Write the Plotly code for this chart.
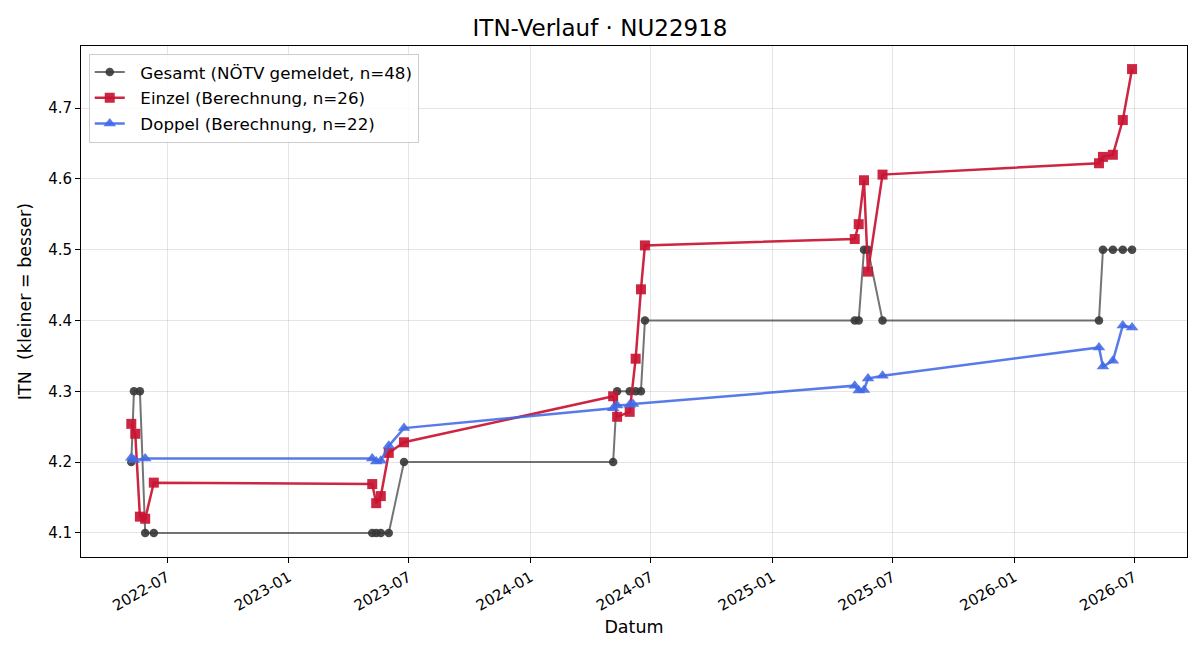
import plotly.graph_objects as go

# Gesamt (NÖTV gemeldet)
gesamt_dates = ["2022-05-08", "2022-05-12", "2022-05-21", "2022-05-29", "2022-06-11",
                "2023-05-07", "2023-05-13", "2023-05-20", "2023-06-01", "2023-06-24",
                "2024-05-05", "2024-05-11", "2024-05-30", "2024-06-08", "2024-06-16", "2024-06-22",
                "2025-05-05", "2025-05-11", "2025-05-19", "2025-05-25", "2025-06-16",
                "2026-05-09", "2026-05-15", "2026-05-30", "2026-06-14", "2026-06-28"]
gesamt_vals = [4.2, 4.3, 4.3, 4.1, 4.1,
               4.1, 4.1, 4.1, 4.1, 4.2,
               4.2, 4.3, 4.3, 4.3, 4.3, 4.4,
               4.4, 4.4, 4.5, 4.5, 4.4,
               4.4, 4.5, 4.5, 4.5, 4.5]

# Einzel (Berechnung)
einzel_dates = ["2022-05-08", "2022-05-14", "2022-05-21", "2022-05-29", "2022-06-11",
                "2023-05-07", "2023-05-13", "2023-05-20", "2023-06-01", "2023-06-24",
                "2024-05-05", "2024-05-11", "2024-05-30", "2024-06-08", "2024-06-16", "2024-06-22",
                "2025-05-05", "2025-05-11", "2025-05-19", "2025-05-25", "2025-06-16",
                "2026-05-09", "2026-05-15", "2026-05-30", "2026-06-14", "2026-06-28"]
einzel_vals = [4.254, 4.240, 4.123, 4.120, 4.171,
               4.169, 4.142, 4.152, 4.213, 4.228,
               4.293, 4.264, 4.271, 4.346, 4.444, 4.506,
               4.515, 4.536, 4.598, 4.469, 4.606,
               4.622, 4.631, 4.634, 4.683, 4.755]

# Doppel (Berechnung)
doppel_dates = ["2022-05-08", "2022-05-12", "2022-05-29",
                "2023-05-07", "2023-05-13", "2023-05-20", "2023-06-01", "2023-06-24",
                "2024-05-05", "2024-05-11", "2024-05-30", "2024-06-04",
                "2025-05-05", "2025-05-11", "2025-05-19", "2025-05-25", "2025-06-16",
                "2026-05-09", "2026-05-15", "2026-05-30", "2026-06-14", "2026-06-28"]
doppel_vals = [4.206, 4.203, 4.205,
               4.205, 4.201, 4.202, 4.223, 4.248,
               4.276, 4.280, 4.281, 4.282,
               4.308, 4.301, 4.302, 4.318, 4.322,
               4.362, 4.335, 4.343, 4.393, 4.390]

y_ticks = [4.1, 4.2, 4.3, 4.4, 4.5, 4.6, 4.7]
x_ticks = ["2022-07-01", "2023-01-01", "2023-07-01", "2024-01-01", "2024-07-01",
           "2025-01-01", "2025-07-01", "2026-01-01", "2026-07-01"]
x_tick_labels = ["2022-07", "2023-01", "2023-07", "2024-01", "2024-07",
                 "2025-01", "2025-07", "2026-01", "2026-07"]

PAD = "\u00a0\u00a0"

fig = go.Figure()
fig.add_trace(go.Scatter(
    x=gesamt_dates, y=gesamt_vals, mode="lines+markers",
    name=PAD + "Gesamt (NÖTV gemeldet, n=48)", legendgroup="g",
    line=dict(color="rgba(70,70,70,0.75)", width=2),
    marker=dict(symbol="circle", size=8.5, color="rgba(55,55,55,0.9)")))
fig.add_trace(go.Scatter(
    x=einzel_dates, y=einzel_vals, mode="lines+markers",
    name=PAD + "Einzel (Berechnung, n=26)", legendgroup="e",
    line=dict(color="rgba(200,20,50,0.92)", width=2.5),
    marker=dict(symbol="square", size=10, color="rgba(200,20,50,0.92)")))
fig.add_trace(go.Scatter(
    x=doppel_dates, y=doppel_vals, mode="lines+markers",
    name=PAD + "Doppel (Berechnung, n=22)", legendgroup="d",
    line=dict(color="rgba(65,105,230,0.88)", width=2.5),
    marker=dict(symbol="triangle-up", size=11, color="rgba(65,105,230,0.88)")))

fig.update_layout(
    width=1200, height=660,
    margin=dict(l=81, r=13, t=46, b=103),
    paper_bgcolor="white", plot_bgcolor="white",
    font=dict(family="DejaVu Sans", size=15, color="black"),
    title=dict(text="ITN-Verlauf · NU22918", x=0.5, xanchor="center",
               y=0.958, yanchor="middle", font=dict(size=23)),
    showlegend=True,
    legend=dict(x=0.007, y=0.985, xanchor="left", yanchor="top",
                bgcolor="rgba(255,255,255,0.85)", bordercolor="#cccccc", borderwidth=1,
                font=dict(size=16.7), tracegroupgap=1),
    xaxis=dict(
        range=["2022-02-21", "2026-09-19"], type="date",
        tickvals=x_ticks, ticktext=x_tick_labels, tickangle=-30,
        showgrid=True, gridcolor="rgba(0,0,0,0.1)", gridwidth=1,
        showline=True, linecolor="black", linewidth=1, mirror=True,
        ticks="outside", ticklen=5, tickcolor="black",
        tickfont=dict(size=15), zeroline=False,
        title=dict(text="Datum", font=dict(size=17.5), standoff=6)),
    yaxis=dict(
        range=[4.066, 4.7876],
        tickvals=y_ticks, ticktext=[f"{v:.1f}" for v in y_ticks],
        showgrid=True, gridcolor="rgba(0,0,0,0.1)", gridwidth=1,
        showline=True, linecolor="black", linewidth=1, mirror=True,
        ticks="outside", ticklen=5, tickcolor="black",
        tickfont=dict(size=15), zeroline=False,
        title=dict(text="ITN \u00a0(kleiner = besser)", font=dict(size=17.5), standoff=12)),
)

fig.write_html("out.html")
